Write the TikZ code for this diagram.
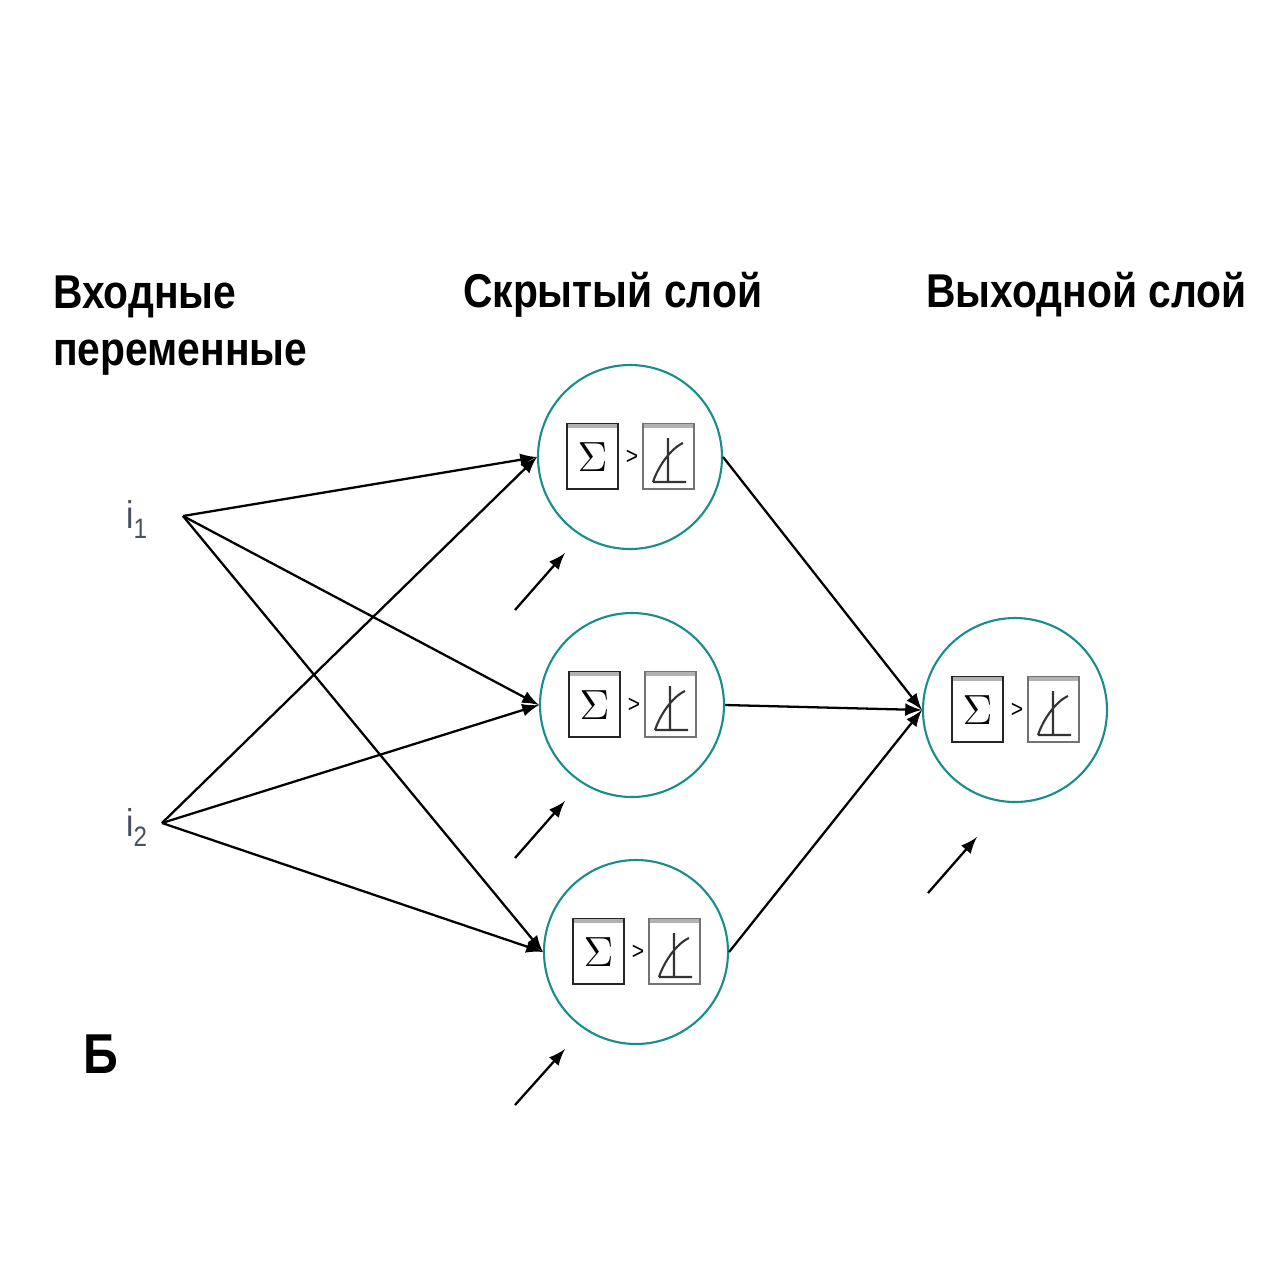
\documentclass[tikz,border=0pt]{standalone}
\usepackage{fontspec}
\setmainfont[FakeStretch=0.86]{Liberation Sans}
\definecolor{tl}{RGB}{25,140,140}
\definecolor{ilbl}{RGB}{70,80,100}
\begin{document}
\begin{tikzpicture}[line width=.65pt,
 nrn/.pic={\draw[black!85,line width=.6pt] (-.63,.33) rectangle (-.12,-.32);
  \draw[black!55,line width=.6pt] (.13,.33) rectangle (.64,-.32);
  \draw[black!30,line width=1.2pt] (-.62,.31)--(-.13,.31) (.14,.31)--(.63,.31);
  \path (-.375,0) node{\fontsize{13}{13}\selectfont$\Sigma$} (.02,0) node{\scriptsize >};
  \draw[black!80,line width=.6pt] (.38,.19)--(.38,-.25) (.23,-.25)--(.56,-.25) (.23,-.25) .. controls (.28,-.1) and (.40,.08) .. (.53,.14);},
 neur/.style={circle,draw=tl,line width=.6pt,minimum size=1.84cm,inner sep=0},
 ttl/.style={anchor=base west,inner sep=0,font=\bfseries\fontsize{13.5}{14}\selectfont},
 lbl/.style={anchor=base west,inner sep=0,text=ilbl,font=\fontsize{11}{11}\selectfont}]
\useasboundingbox (0,0) rectangle (12.69,-12.69);
\path (.52,-3.08) node[ttl] (t1) {Входные} ++(0,-.57) node[ttl] (t2) {переменные}
 (4.62,-3.07) node[ttl] (t3) {Скрытый слой} (9.25,-3.07) node[ttl] (t4) {Выходной слой}
 (.82,-10.73) node[ttl,font=\bfseries\fontsize{16}{16}\selectfont] (bb) {Б};
\path (1.25,-5.28) node[lbl] (l1) {i\raisebox{-.5ex}{\footnotesize 1}} (1.83,-5.16) coordinate (x1)
 (1.25,-8.36) node[lbl] (l2) {i\raisebox{-.5ex}{\footnotesize 2}} (1.62,-8.23) coordinate (x2);
\path (6.30,-4.57) node[neur] (h1) {} (6.32,-7.05) node[neur] (h2) {}
 (6.36,-9.52) node[neur] (h3) {} (10.15,-7.10) node[neur] (o) {};
\foreach \n in {h1,h2,h3,o} \path (\n) pic{nrn};
\foreach \a in {x1,x2} \foreach \b in {h1,h2,h3} \draw[-latex] (\a) -- (\b.west);
\foreach \b in {h1,h2,h3} \draw[-latex] (\b.east) -- (o.west);
% bias
\path (5.15,-6.10) coordinate (b1) ++(.5,.57) coordinate (e1)
 (5.15,-8.58) coordinate (b2) ++(.5,.57) coordinate (e2)
 (5.15,-11.05) coordinate (b3) ++(.5,.56) coordinate (e3)
 (9.28,-8.93) coordinate (b4) ++(.49,.56) coordinate (e4);
\foreach \d in {1,...,4} \draw[-latex] (b\d) -- (e\d);
\end{tikzpicture}
\end{document}
